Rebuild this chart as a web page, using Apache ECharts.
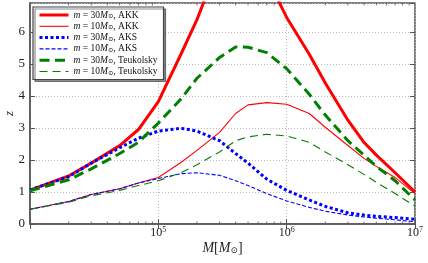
<!DOCTYPE html>
<html><head><meta charset="utf-8">
<script src="https://cdn.jsdelivr.net/npm/echarts@6/dist/echarts.min.js"></script>
<style>html,body{margin:0;padding:0;background:#fff}#c{width:428px;height:263px}</style>
</head><body><div id="c"></div>
<script>
// Black hole mass M [M_sun]
const masses = [1e4, 2e4, 3e4, 5e4, 7e4, 1e5, 1.5e5, 2e5, 3e5, 4e5, 5e5, 7e5, 1e6, 1.5e6, 2e6, 3e6, 4e6, 5e6, 7e6, 1e7];
// redshift reach z
const akk30  = [1.06, 1.50, 1.90, 2.45, 2.95, 3.82, 5.30, 6.38, 8.20, 8.60, 8.40, 7.70, 6.45, 5.30, 4.40, 3.24, 2.55, 2.15, 1.60, 1.00];
const akk10  = [0.46, 0.70, 0.92, 1.10, 1.28, 1.45, 1.92, 2.30, 2.86, 3.45, 3.72, 3.79, 3.74, 3.45, 3.02, 2.45, 2.05, 1.80, 1.45, 0.95];
const aks30  = [1.06, 1.48, 1.90, 2.38, 2.68, 2.90, 2.99, 2.90, 2.60, 2.20, 1.90, 1.40, 1.05, 0.75, 0.55, 0.35, 0.28, 0.24, 0.20, 0.15];
const aks10  = [0.46, 0.70, 0.92, 1.10, 1.28, 1.42, 1.57, 1.60, 1.52, 1.35, 1.20, 0.95, 0.72, 0.52, 0.40, 0.28, 0.22, 0.18, 0.13, 0.07];
const teuk30 = [1.04, 1.38, 1.72, 2.20, 2.55, 3.15, 3.90, 4.55, 5.20, 5.53, 5.52, 5.35, 4.85, 4.05, 3.40, 2.60, 2.15, 1.80, 1.35, 0.75];
const teuk10 = [0.46, 0.68, 0.88, 1.05, 1.20, 1.35, 1.60, 1.85, 2.25, 2.60, 2.72, 2.80, 2.75, 2.55, 2.25, 1.85, 1.55, 1.30, 0.95, 0.56];
const yTicks = [0, 1, 2, 3, 4, 5, 6];
const minorTickVals = [2e4, 3e4, 4e4, 5e4, 6e4, 7e4, 8e4, 9e4, 2e5, 3e5, 4e5, 5e5, 6e5, 7e5, 8e5, 9e5, 2e6, 3e6, 4e6, 5e6, 6e6, 7e6, 8e6, 9e6];
const seriesNames = ['m = 30M⊙, AKK', 'm = 10M⊙, AKK', 'm = 30M⊙, AKS', 'm = 10M⊙, AKS', 'm = 30M⊙, Teukolsky', 'm = 10M⊙, Teukolsky'];
const seriesVals = [akk30, akk10, aks30, aks10, teuk30, teuk10];
const legendMass = ['30', '10', '30', '10', '30', '10'];
const legendMethod = ['AKK', 'AKK', 'AKS', 'AKS', 'Teukolsky', 'Teukolsky'];

const styles = [
  {color: '#ff0000', width: 3, type: 'solid'},
  {color: '#ff0000', width: 1.1, type: 'solid'},
  {color: '#0000ff', width: 3, type: [3, 2.5]},
  {color: '#0000ff', width: 1.1, type: [4, 2]},
  {color: '#008000', width: 3, type: [10, 5.5]},
  {color: '#008000', width: 1.1, type: [8, 5]}
];
const FONT = 'Liberation Serif';
const YMAX = 6.9;
const chart = echarts.init(document.getElementById('c'), null, {renderer: 'canvas'});
const series = seriesNames.map((n, i) => ({
  name: n, type: 'line', symbol: 'none', xAxisIndex: 0, yAxisIndex: 0,
  data: masses.map((m, j) => [m, seriesVals[i][j]]),
  lineStyle: styles[i], itemStyle: {color: styles[i].color},
  clip: true, animation: false, z: 3 + i
}));
series.push({
  type: 'custom', name: 'minor', silent: true, clip: false, z: 2, animation: false,
  xAxisIndex: 0, yAxisIndex: 0,
  data: minorTickVals.map(v => [v, 0]),
  renderItem: (params, api) => {
    const v = api.value(0);
    const b = api.coord([v, 0]);
    const t = api.coord([v, YMAX]);
    const st = {stroke: '#555', lineWidth: 0.8};
    return {type: 'group', children: [
      {type: 'line', shape: {x1: b[0], y1: b[1], x2: b[0], y2: b[1] - 2.5}, style: st},
      {type: 'line', shape: {x1: t[0], y1: t[1], x2: t[0], y2: t[1] + 2.5}, style: st}
    ]};
  }
});
const expOf = v => Math.round(Math.log10(v));
const xLab = {
  show: true, margin: 2, fontFamily: FONT, color: '#222',
  formatter: v => { const e = expOf(v); return e === 4 ? '' : '{b|10}{s|' + e + '}'; },
  rich: {b: {fontSize: 12, fontFamily: FONT, color: '#222'}, s: {fontSize: 8, fontFamily: FONT, color: '#222', padding: [0, 0, 6, 0]}}
};
chart.setOption({
  animation: false,
  backgroundColor: '#fff',
  grid: {left: 30, right: 13, top: 3, bottom: 39, containLabel: false, outerBoundsMode: 'none',
    show: true, borderColor: '#555', borderWidth: 1.5, backgroundColor: 'transparent'},
  legend: {
    orient: 'vertical', left: 33, top: 7, padding: [3, 6, 3, 5], itemGap: 1.3,
    itemWidth: 29, itemHeight: 10,
    backgroundColor: '#fff', borderColor: '#444', borderWidth: 1.2,
    shadowColor: 'rgba(0,0,0,0.45)', shadowOffsetX: 2, shadowOffsetY: 2, shadowBlur: 0,
    itemStyle: {color: 'rgba(0,0,0,0)', borderColor: 'rgba(0,0,0,0)', borderWidth: 0, opacity: 0},
    data: seriesNames.map((n, i) => ({name: n, lineStyle: {width: styles[i].width, type: styles[i].type, color: styles[i].color}})),
    formatter: n => { const i = seriesNames.indexOf(n); return '{i|m} = ' + legendMass[i] + '{i|M}{u|⊙}, ' + legendMethod[i]; },
    textStyle: {fontFamily: FONT, fontSize: 9.5, color: '#111',
      rich: {i: {fontStyle: 'italic', fontFamily: FONT, fontSize: 9.5, color: '#111'}, u: {fontSize: 6.5, fontFamily: 'DejaVu Serif', color: '#111', padding: [3, 0, 0, 0]}}}
  },
  xAxis: [{
    type: 'log', logBase: 10, min: 1e4, max: 1e7, position: 'bottom',
    name: '{i|M}[{i|M}{u|⊙}]', nameLocation: 'middle', nameGap: 17, nameMoveOverlap: false,
    nameTextStyle: {fontFamily: FONT, fontSize: 14, color: '#222',
      rich: {i: {fontStyle: 'italic', fontFamily: FONT, fontSize: 14, color: '#222'}, u: {fontSize: 9, fontFamily: 'DejaVu Serif', color: '#222', padding: [5, 0, 0, 0]}}},
    axisLine: {show: true, lineStyle: {color: '#555', width: 1.5}},
    axisTick: {show: true, inside: true, length: 5, lineStyle: {color: '#555', width: 1}},
    axisLabel: xLab,
    splitLine: {show: true, lineStyle: {color: '#bbb', type: [1, 2], width: 1}}
  }, {
    type: 'log', logBase: 10, min: 1e4, max: 1e7, position: 'top',
    axisLine: {show: false},
    axisTick: {show: true, inside: true, length: 5, lineStyle: {color: '#555', width: 1}},
    axisLabel: {show: false}, splitLine: {show: false}
  }],
  yAxis: [{
    type: 'value', min: 0, max: YMAX, interval: 1, position: 'left',
    name: 'z', nameLocation: 'middle', nameGap: 14, nameMoveOverlap: false,
    nameTextStyle: {fontFamily: FONT, fontStyle: 'italic', fontSize: 13, color: '#222'},
    axisLine: {show: true, lineStyle: {color: '#555', width: 1.5}},
    axisTick: {show: true, inside: true, length: 5, lineStyle: {color: '#555', width: 1}},
    axisLabel: {margin: 5, fontFamily: FONT, fontSize: 13, color: '#222', showMaxLabel: false,
      formatter: v => yTicks.indexOf(v) >= 0 ? String(v) : ''},
    splitLine: {show: true, lineStyle: {color: '#bbb', type: [1, 2], width: 1}}
  }, {
    type: 'value', min: 0, max: YMAX, interval: 1, position: 'right',
    axisLine: {show: false},
    axisTick: {show: true, inside: true, length: 5, lineStyle: {color: '#555', width: 1}},
    axisLabel: {show: false}, splitLine: {show: false}
  }],
  series: series
});
</script></body></html>
